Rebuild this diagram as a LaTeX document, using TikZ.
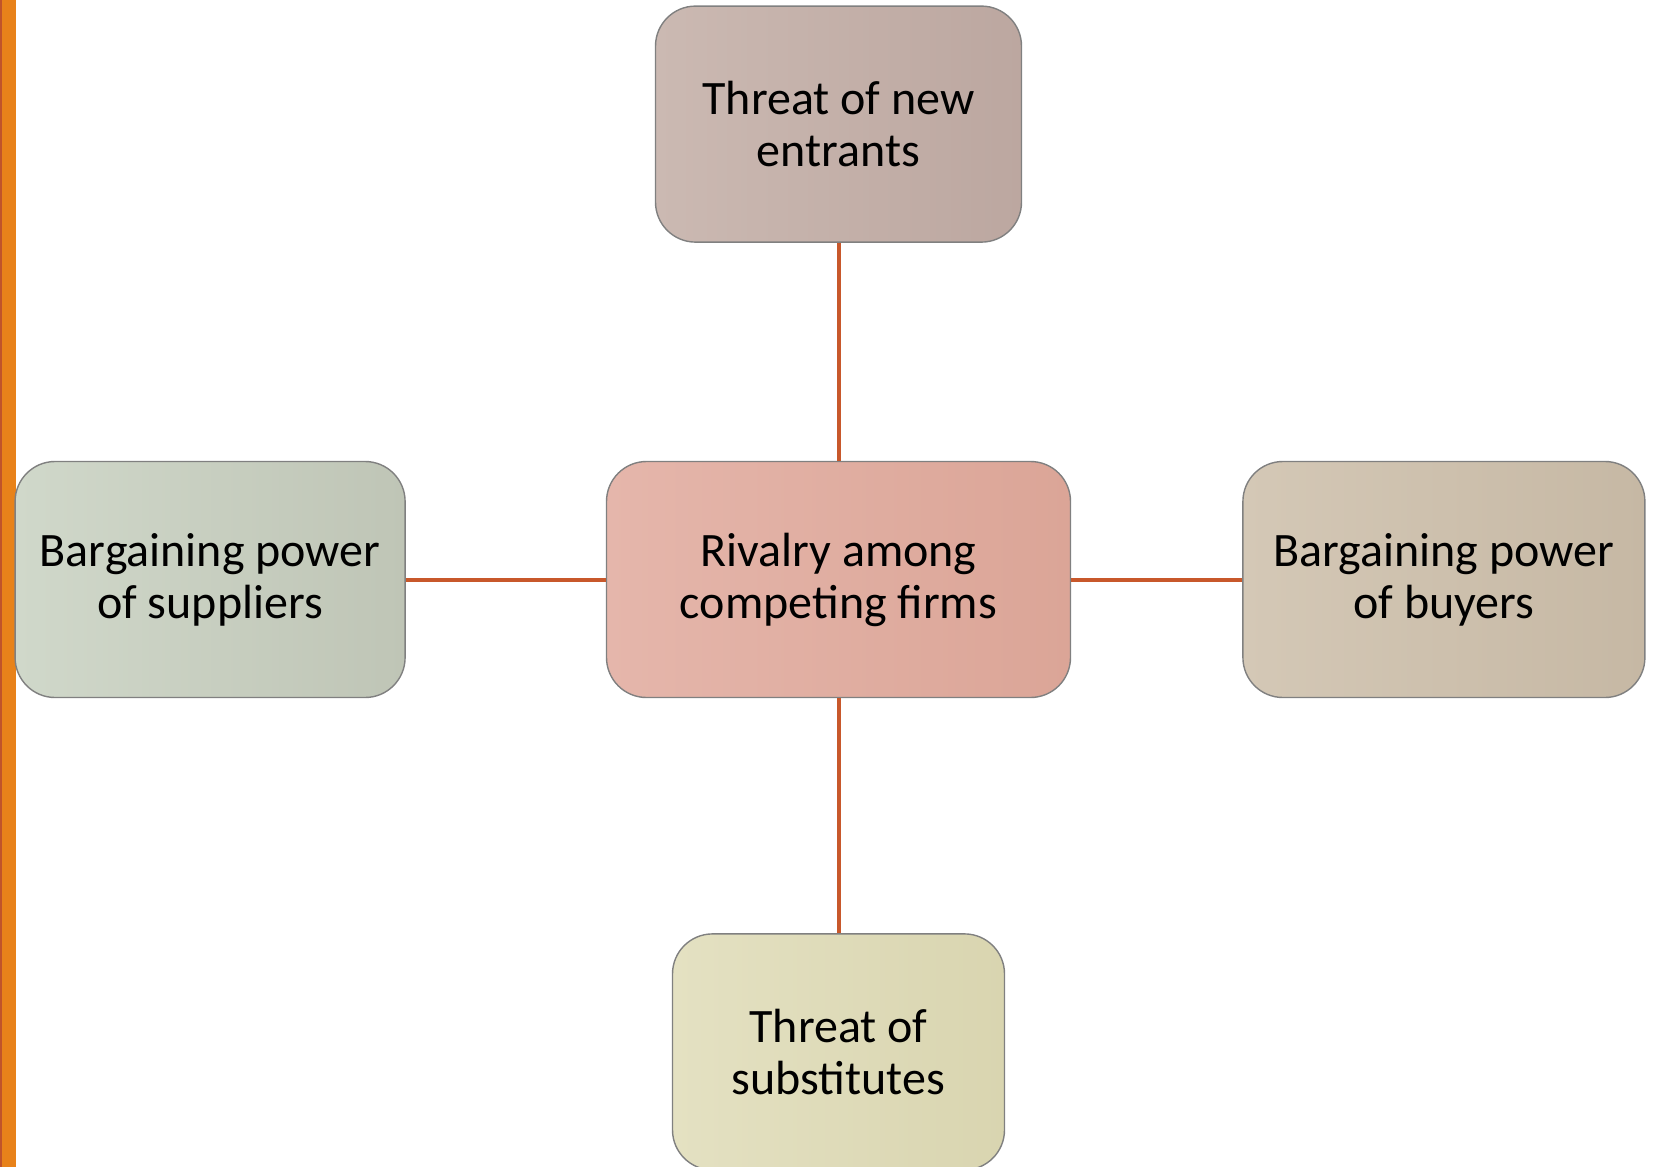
\documentclass[tikz,border=0pt]{standalone}
\usepackage{fontspec}
\setmainfont{Carlito}
\usetikzlibrary{positioning}
\definecolor{barorange}{HTML}{E8821A}
\definecolor{bardark}{HTML}{C0542A}
\definecolor{linkred}{HTML}{C8582B}
\definecolor{boxline}{HTML}{808080}
\definecolor{entrantsL}{HTML}{CBB9B2}
\definecolor{entrantsR}{HTML}{BCA7A0}
\definecolor{rivalryL}{HTML}{E5B6AB}
\definecolor{rivalryR}{HTML}{DBA597}
\definecolor{suppliersL}{HTML}{D0D8CA}
\definecolor{suppliersR}{HTML}{BFC5B6}
\definecolor{buyersL}{HTML}{D4C8B6}
\definecolor{buyersR}{HTML}{C6B8A4}
\definecolor{substL}{HTML}{E4E1C2}
\definecolor{substR}{HTML}{D9D5B0}
\tikzset{force box/.style={draw=boxline,line width=0.7pt,rounded corners=20pt,align=center,minimum height=118pt,font=\fontsize{24}{26}\selectfont,left color=#1L,right color=#1R},
force line/.style={draw=linkred,line width=2pt}}

\begin{document}
\begin{tikzpicture}[x=0.5pt,y=-0.5pt]
\useasboundingbox (0,0) rectangle (1655,1167);
\fill[barorange] (0,0) rectangle (16,1167);
\fill[bardark] (0,0) rectangle (2,1167);
\node[force box=rivalry,minimum width=232pt] (rivalry) at (838.5,579.5) {Rivalry among\\competing firms};
\node[force box=entrants,minimum width=183pt,above=109pt of rivalry] (entrants) {Threat of new\\entrants};
\node[force box=suppliers,minimum width=195pt,left=100pt of rivalry] (suppliers) {Bargaining power\\of suppliers};
\node[force box=buyers,minimum width=201pt,right=85.5pt of rivalry] (buyers) {Bargaining power\\of buyers};
\node[force box=subst,minimum width=166pt,below=117.5pt of rivalry] (subst) {Threat of\\substitutes};
\draw[force line] (entrants) -- (rivalry);
\draw[force line] (suppliers) -- (rivalry);
\draw[force line] (rivalry) -- (buyers);
\draw[force line] (rivalry) -- (subst);
\end{tikzpicture}
\end{document}
